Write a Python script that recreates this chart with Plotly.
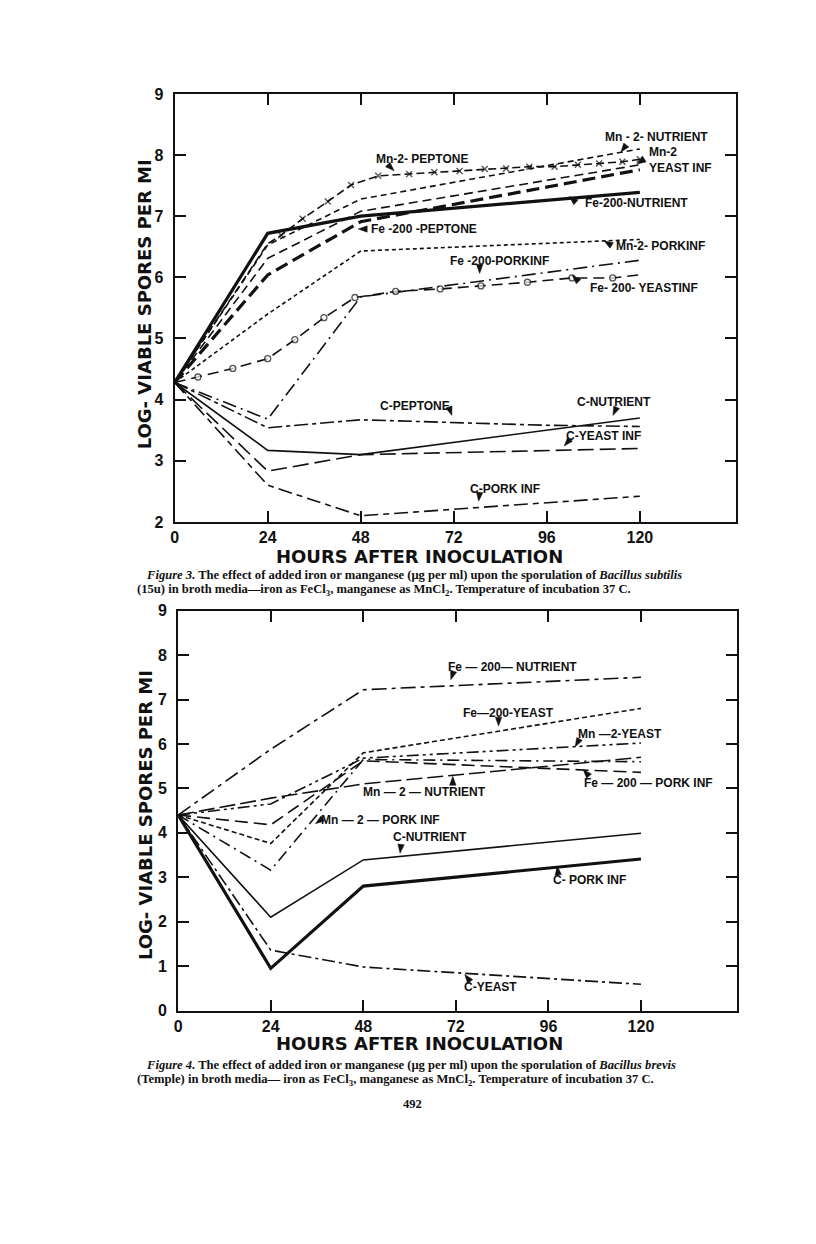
import math
import plotly.graph_objects as go

# The page body keeps its default 8px margin, so the figure is sized to fill
# an 816x1244 window exactly.
PAGE_W, PAGE_H, OFF = 816, 1244, 8
FW, FH = PAGE_W - 2 * OFF, PAGE_H - 2 * OFF

# ---------------- Figure 3 data (Bacillus subtilis) ----------------
hours = [0, 24, 48, 120]
fig3_fe200_nutrient = [4.28, 6.72, 7.00, 7.39]
fig3_mn2_nutrient = [4.28, 6.53, 7.28, 8.10]
fig3_mn2_yeast = [4.28, 6.31, 7.08, 7.84]
fig3_fe200_peptone = [4.28, 6.04, 6.91, 7.76]
fig3_mn2_pork = [4.28, 5.40, 6.43, 6.62]
fig3_fe200_pork = [4.28, 3.68, 5.68, 6.28]
fig3_c_nutrient = [4.28, 3.17, 3.10, 3.70]
fig3_c_yeast = [4.28, 2.83, 3.10, 3.20]
fig3_c_pork = [4.28, 2.60, 2.10, 2.42]
hours_c_peptone = [0, 24, 48, 72, 96, 120]
fig3_c_peptone = [4.28, 3.54, 3.67, 3.62, 3.58, 3.56]
hours_mn2_peptone = [0, 24, 27.5, 33, 39.5, 45.5, 52.5, 60.5, 67, 73.5, 80, 85.5,
                     91.5, 98, 104, 109.5, 115.5, 120]
fig3_mn2_peptone = [4.28, 6.55, 6.69, 6.96, 7.24, 7.51, 7.66, 7.69, 7.72, 7.74, 7.77,
                    7.78, 7.81, 7.81, 7.84, 7.86, 7.89, 7.93]
hours_fe200_yeast = [0, 6, 15, 24, 31, 38.5, 46.5, 57, 68.5, 79, 91, 102.5, 113, 120]
fig3_fe200_yeast = [4.28, 4.37, 4.51, 4.67, 4.98, 5.34, 5.67, 5.77, 5.81, 5.86, 5.92,
                    5.99, 5.99, 6.04]

# ---------------- Figure 4 data (Bacillus brevis) ----------------
fig4_fe200_nutrient = [4.40, 5.88, 7.22, 7.50]
fig4_fe200_yeast = [4.40, 3.76, 5.80, 6.80]
fig4_mn2_yeast = [4.40, 4.65, 5.68, 6.02]
fig4_mn2_nutrient = [4.40, 4.78, 5.10, 5.70]
fig4_fe200_pork = [4.40, 4.18, 5.62, 5.36]
fig4_mn2_pork = [4.40, 3.16, 5.65, 5.60]
fig4_c_nutrient = [4.40, 2.10, 3.39, 3.99]
fig4_c_pork = [4.40, 0.95, 2.80, 3.41]
fig4_c_yeast = [4.40, 1.36, 0.98, 0.59]

x_ticks = [0, 24, 48, 72, 96, 120]
y_ticks_top = [2, 3, 4, 5, 6, 7, 8, 9]
y_ticks_bottom = [0, 1, 2, 3, 4, 5, 6, 7, 8, 9]

INK = "#111111"
fig = go.Figure()


def add(x, y, axes, dash="solid", width=1.6, name="", marker=None, mode="lines"):
    tr = dict(x=x, y=y, mode=mode, name=name, showlegend=False, hoverinfo="skip",
              line=dict(color=INK, width=width, dash=dash),
              xaxis=axes[0], yaxis=axes[1])
    if marker is not None:
        tr["marker"] = marker
    fig.add_trace(go.Scatter(**tr))


top = ("x", "y")
bot = ("x2", "y2")

# Figure 3 traces
add(hours, fig3_c_pork, top, dash="14px,5px,6px,5px", name="C-Pork Inf")
add(hours, fig3_c_yeast, top, dash="16px,6px", name="C-Yeast Inf")
add(hours, fig3_c_nutrient, top, name="C-Nutrient")
add(hours_c_peptone, fig3_c_peptone, top, dash="14px,4px,4px,4px", name="C-Peptone")
add(hours, fig3_fe200_pork, top, dash="14px,5px,2px,5px", name="Fe-200-Pork Inf")
add(hours, fig3_mn2_pork, top, dash="4px,3px", name="Mn-2-Pork Inf")
add(hours, fig3_mn2_yeast, top, dash="9px,5px", name="Mn-2-Yeast Inf")
add(hours, fig3_mn2_nutrient, top, dash="6px,4px", name="Mn-2-Nutrient")
add(hours, fig3_fe200_peptone, top, dash="13px,6px", width=3.2, name="Fe-200-Peptone")
add(hours, fig3_fe200_nutrient, top, width=3.2, name="Fe-200-Nutrient")
add(hours_mn2_peptone, fig3_mn2_peptone, top, dash="8px,4px", name="Mn-2-Peptone",
    mode="lines+markers",
    marker=dict(symbol="x-thin", size=[0, 0] + [6] * (len(hours_mn2_peptone) - 2),
                color=INK, line=dict(color=INK, width=1.4)))
add(hours_fe200_yeast, fig3_fe200_yeast, top, dash="11px,6px", name="Fe-200-Yeast Inf",
    mode="lines+markers",
    marker=dict(symbol="circle", size=[0] + [6] * (len(hours_fe200_yeast) - 2) + [0],
                color="white", line=dict(color=INK, width=1.3)))

# Figure 4 traces
add(hours, fig4_c_yeast, bot, dash="13px,4px,3px,4px", name="C-Yeast")
add(hours, fig4_c_nutrient, bot, name="C-Nutrient")
add(hours, fig4_c_pork, bot, width=3.2, name="C-Pork Inf")
add(hours, fig4_mn2_pork, bot, dash="12px,5px,2px,5px", name="Mn-2-Pork Inf")
add(hours, fig4_fe200_pork, bot, dash="13px,6px", name="Fe-200-Pork Inf")
add(hours, fig4_mn2_nutrient, bot, dash="16px,5px", name="Mn-2-Nutrient")
add(hours, fig4_mn2_yeast, bot, dash="12px,4px,3px,4px,3px,4px", name="Mn-2-Yeast")
add(hours, fig4_fe200_yeast, bot, dash="5px,3px", name="Fe-200-Yeast")
add(hours, fig4_fe200_nutrient, bot, dash="15px,5px,4px,5px", name="Fe-200-Nutrient")

# ---------------- axes ----------------
tick_font = dict(family="Liberation Sans", size=16, color=INK, weight="bold")
common_x = dict(tickvals=x_ticks, ticks="inside", ticklen=11, tickwidth=2, tickcolor=INK,
                showline=True, linewidth=2, linecolor=INK, mirror="ticks",
                showgrid=False, zeroline=False, tickfont=tick_font)
common_y = dict(ticks="inside", ticklen=11, tickwidth=2, tickcolor=INK,
                showline=True, linewidth=2, linecolor=INK, mirror="ticks",
                showgrid=False, zeroline=False, tickfont=tick_font, ticklabelstandoff=6)


def px(xp):
    """page pixel x -> paper fraction"""
    return (xp - OFF) / FW


def py(yp):
    """page pixel y -> paper fraction"""
    return 1 - (yp - OFF) / FH


fig.update_layout(
    width=FW, height=FH, margin=dict(l=0, r=0, t=0, b=0),
    paper_bgcolor="white", plot_bgcolor="white",
    xaxis=dict(domain=[px(171.5), px(736)], range=[0, 144.9], anchor="y", **common_x),
    yaxis=dict(domain=[py(521), py(87)], range=[2, 9], tickvals=y_ticks_top, anchor="x", **common_y),
    xaxis2=dict(domain=[px(175), px(737)], range=[0, 145.0], anchor="y2", **common_x),
    yaxis2=dict(domain=[py(1016.5), py(611)], range=[0, 9], tickvals=y_ticks_bottom, anchor="x2", **common_y),
)

ann = []
ytitle_font = dict(family="DejaVu Sans", size=18, color=INK, weight="bold")
xtitle_font = dict(family="DejaVu Sans", size=18, color=INK, weight="bold")
for cy in (300, 818):
    ann.append(dict(text="LOG- VIABLE SPORES PER MI", x=px(142), y=py(cy), xref="paper", yref="paper",
                    textangle=-90, showarrow=False, font=ytitle_font, xanchor="center", yanchor="middle"))
for cy in (556, 1050):
    ann.append(dict(text="HOURS AFTER INOCULATION", x=px(418), y=py(cy), xref="paper", yref="paper",
                    showarrow=False, font=xtitle_font, xanchor="center", yanchor="middle"))

# curve labels: (text, centre x px, centre y px)
label_font = dict(family="Liberation Sans", size=12, color=INK, weight="bold")
labels = [
    ("Mn - 2- NUTRIENT", 656, 131), ("Mn-2<br>YEAST INF", 680, 154),
    ("Mn-2- PEPTONE", 420, 153), ("Fe-200-NUTRIENT", 636, 198),
    ("Fe -200 -PEPTONE", 422, 224), ("Mn-2- PORKINF", 660, 241),
    ("Fe -200-PORKINF", 498, 256), ("Fe- 200- YEASTINF", 643, 284),
    ("C-PEPTONE", 413, 403), ("C-NUTRIENT", 613, 399),
    ("C-YEAST INF", 602, 434), ("C-PORK INF", 503, 488),
    ("Fe — 200— NUTRIENT", 511, 668), ("Fe—200-YEAST", 507, 715),
    ("Mn —2-YEAST", 619, 736), ("Mn — 2 — NUTRIENT", 423, 795),
    ("Fe — 200 — PORK INF", 648, 786), ("Mn — 2 — PORK INF", 378, 823),
    ("C-NUTRIENT", 428, 841), ("C- PORK INF", 588, 884), ("C-YEAST", 489, 993),
]
for text, cx, cy in labels:
    ann.append(dict(text=text, x=px(cx), y=py(cy), xref="paper", yref="paper", showarrow=False,
                    font=label_font, xanchor="center", yanchor="middle", align="left"))

# small solid arrowheads beside the labels: (tip x px, tip y px, back-direction dx, dy)
arrows = [
    (620, 146, 6, -8), (636, 158, 8, -5), (392, 165, -7, -7), (568, 191, 8, 7),
    (356, 224, 10, 0), (603, 236, 8, 5), (478, 269, 0, -9), (571, 271, 8, 8),
    (450, 413, -3, -9), (612, 413, 4, -9), (563, 444, 7, -8), (477, 500, 1, -9),
    (449, 681, 3, -9), (497, 728, 0, -9), (574, 749, 5, -9), (451, 779, 0, 9),
    (582, 772, 7, 8), (313, 827, 7, -5), (398, 857, 1, -9), (556, 870, 1, 9),
    (463, 980, 7, 9),
]
shapes = []
for tx, ty, dx, dy in arrows:
    n = math.hypot(dx, dy)
    ux, uy = dx / n, dy / n
    bx, by = tx + ux * 9, ty + uy * 9
    pxv, pyv = -uy * 3.2, ux * 3.2
    pts = [(tx, ty), (bx + pxv, by + pyv), (bx - pxv, by - pyv)]
    path = "M " + " L ".join(f"{px(a):.5f},{py(b):.5f}" for a, b in pts) + " Z"
    shapes.append(dict(type="path", path=path, xref="paper", yref="paper",
                       fillcolor=INK, line=dict(color=INK, width=0.5)))

cap_font = dict(family="Liberation Serif", size=12.6, color=INK, weight="bold")
captions = [
    ("<i>Figure 3.</i> The effect of added iron or manganese (μg per ml) upon the sporulation of <i>Bacillus subtilis</i>", 141, 575),
    ("(15u) in broth media—iron as FeCl<sub>3</sub>, manganese as MnCl<sub>2</sub>. Temperature of incubation 37 C.", 132, 590),
    ("<i>Figure 4.</i> The effect of added iron or manganese (μg per ml) upon the sporulation of <i>Bacillus brevis</i>", 141, 1072),
    ("(Temple) in broth media— iron as FeCl<sub>3</sub>, manganese as MnCl<sub>2</sub>. Temperature of incubation 37 C.", 132, 1087),
]
for text, lx, cy in captions:
    ann.append(dict(text=text, x=px(lx), y=py(cy), xref="paper", yref="paper", showarrow=False,
                    font=cap_font, xanchor="left", yanchor="middle"))
ann.append(dict(text="492", x=px(411), y=py(1111), xref="paper", yref="paper", showarrow=False,
                font=cap_font, xanchor="center", yanchor="middle"))

fig.update_layout(annotations=ann, shapes=shapes)
fig.write_html("out.html", config={"displayModeBar": False})
